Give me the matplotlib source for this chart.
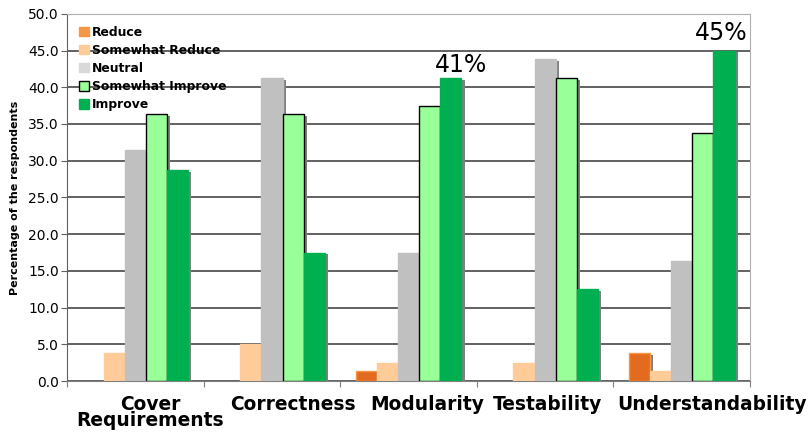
import numpy as np
import matplotlib.pyplot as plt
import matplotlib.patheffects as pe

# categories and survey answers (% of respondents)
categories = ["Cover\nRequirements", "Correctness", "Modularity", "Testability", "Understandability"]
series_names = ["Reduce", "Somewhat Reduce", "Neutral", "Somewhat Improve", "Improve"]
reduce_vals = [0.0, 0.0, 1.3, 0.0, 3.8]
somewhat_reduce_vals = [3.8, 5.1, 2.4, 2.4, 1.3]
neutral_vals = [31.4, 41.3, 17.5, 43.9, 16.3]
somewhat_improve_vals = [36.3, 36.3, 37.5, 41.3, 33.8]
improve_vals = [28.7, 17.5, 41.3, 12.5, 45.0]
y_ticks = [0.0, 5.0, 10.0, 15.0, 20.0, 25.0, 30.0, 35.0, 40.0, 45.0, 50.0]

colors = ["#E26B1F", "#FFCC99", "#C0C0C0", "#99FF99", "#00B050"]
edges = ["#F79646", "#FFCC99", "#C0C0C0", "#000000", "#00B050"]
legend_colors = ["#F79646", "#FFCC99", "#D9D9D9", "#99FF99", "#00B050"]

# category labels sit a little to the right of the group centres
label_shift = [0.11, 0.15, 0.14, 0.015, 0.225]

fig = plt.figure(figsize=(8.09, 4.32), dpi=100)
ax = fig.add_axes([0.083, 0.118, 0.844, 0.85])

x = np.arange(len(categories))
width = 0.155
all_vals = [reduce_vals, somewhat_reduce_vals, neutral_vals, somewhat_improve_vals, improve_vals]
shadow = [pe.SimplePatchShadow(offset=(2.2, -1.4), shadow_rgbFace="#808080", alpha=1.0), pe.Normal()]

for i, vals in enumerate(all_vals):
    pos = x + (i - 2) * width
    bars = ax.bar(pos, vals, width, color=colors[i], edgecolor=edges[i],
                  linewidth=1.0, zorder=3, label=series_names[i])
    for b, v in zip(bars, vals):
        if v > 0:
            b.set_path_effects(shadow)
        else:
            b.set_visible(False)

ax.set_xlim(-0.5, len(categories) - 0.5)
ax.set_ylim(0, 50)
ax.set_yticks(y_ticks)
ax.set_yticklabels([f"{t:.1f}" for t in y_ticks], fontsize=10, family="DejaVu Sans")
ax.yaxis.grid(True, color="#555555", linewidth=1.3, zorder=0)
ax.set_axisbelow(True)

# category separators as ticks
ax.set_xticks(np.arange(len(categories) + 1) - 0.5)
ax.set_xticklabels([])
ax.tick_params(axis="x", length=4, color="#808080", direction="out")
ax.tick_params(axis="y", length=4, color="#606060", pad=2)
for i, name in enumerate(categories):
    ax.text(x[i] + label_shift[i], -1.9, name, ha="center", va="top", fontsize=13.4,
            fontweight="bold", linespacing=0.82, family="DejaVu Sans")

ax.set_ylabel("Percentage of the respondents", fontsize=8, fontweight="bold", labelpad=6)

for side in ["top", "right"]:
    ax.spines[side].set_color("#B0B0B0")
ax.spines["left"].set_color("#606060")
ax.spines["bottom"].set_color("#808080")

# highlight labels
ax.text(x[2] + 2.5 * width, improve_vals[2] + 0.75, f"{improve_vals[2]:.0f}%",
        ha="center", va="baseline", fontsize=17, family="DejaVu Sans")
ax.text(x[4] + 1.85 * width, improve_vals[4] + 1.5, f"{improve_vals[4]:.0f}%",
        ha="center", va="baseline", fontsize=17, family="DejaVu Sans")

handles = [plt.Rectangle((0, 0), 1, 1, facecolor=legend_colors[i],
                         edgecolor="#000000" if i == 3 else legend_colors[i], linewidth=1)
           for i in range(5)]
leg = ax.legend(handles, series_names, loc="upper left", frameon=False,
                prop={"weight": "bold", "size": 8.9}, handlelength=0.8, handleheight=0.8,
                handletextpad=0.25, labelspacing=0.42, borderpad=0, borderaxespad=0,
                bbox_to_anchor=(0.0176, 0.968))
leg.set_zorder(5)

fig.savefig("out.png", dpi=100)
